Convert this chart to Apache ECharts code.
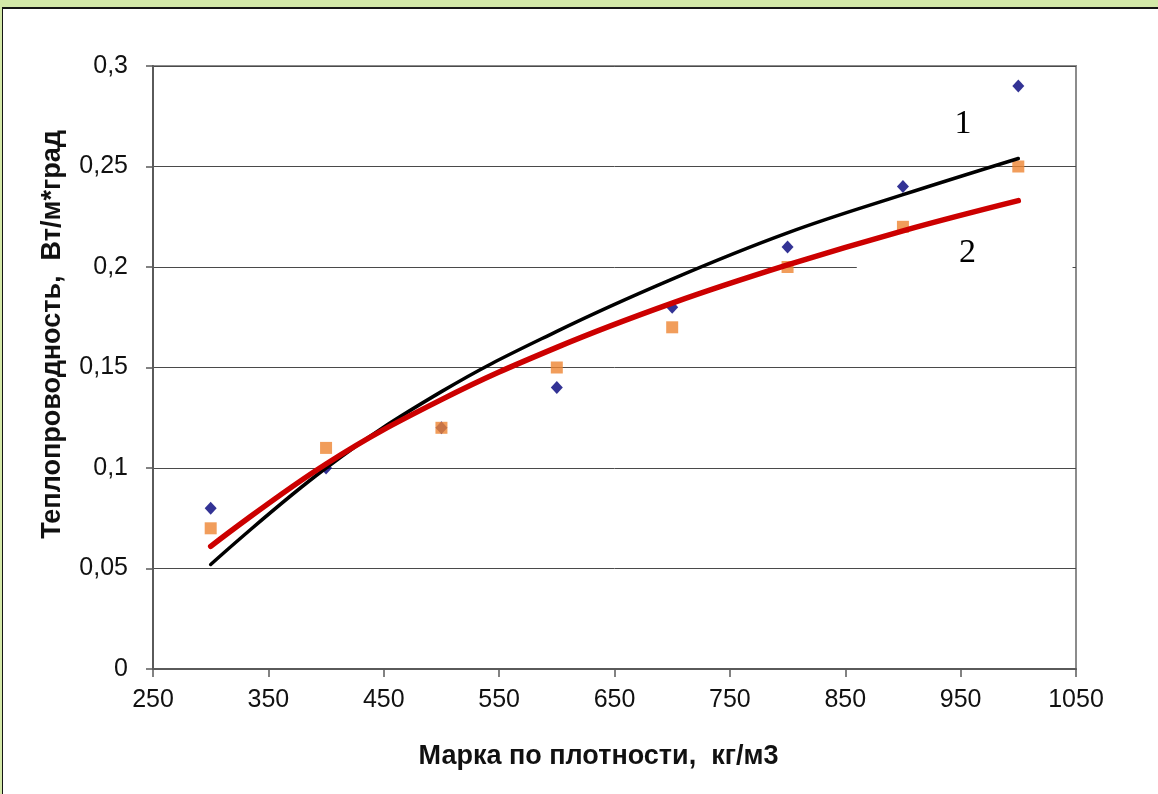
<!DOCTYPE html>
<html>
<head>
<meta charset="utf-8">
<script src="https://cdn.jsdelivr.net/npm/echarts@6/dist/echarts.min.js"></script>
<style>
  html, body { margin: 0; padding: 0; background: #ffffff; }
  #page { position: relative; width: 1158px; height: 794px; overflow: hidden; background: #ffffff; }
  #band { position: absolute; left: 0; top: 0; width: 1158px; height: 7px; background: #d3e8a8; }
  #strip { position: absolute; left: 0; top: 0; width: 2px; height: 794px; background: #d3e8a8; }
  #frame { position: absolute; left: 2px; top: 7px; width: 1200px; height: 900px;
           border-top: 2px solid #151515; border-left: 1px solid #151515; }
  #chart { position: absolute; left: 0; top: 0; width: 1158px; height: 794px; }
</style>
</head>
<body>
<div id="page">
  <div id="chart"></div>
  <div id="band"></div>
  <div id="strip"></div>
  <div id="frame"></div>
</div>
<script>
// Density grades, kg/m3
const density = [300, 400, 500, 600, 700, 800, 900, 1000];
// Measured thermal conductivity, series 1 (diamonds) and series 2 (squares)
const conductivity1 = [0.08, 0.10, 0.12, 0.14, 0.18, 0.21, 0.24, 0.29];
const conductivity2 = [0.07, 0.11, 0.12, 0.15, 0.17, 0.20, 0.22, 0.25];
// Logarithmic trend curves at the same density grades
const trend1 = [0.052, 0.100, 0.138, 0.168, 0.194, 0.217, 0.236, 0.254];
const trend2 = [0.061, 0.102, 0.134, 0.160, 0.182, 0.201, 0.218, 0.233];
// Tick labels
const yTickLabels = ['0', '0,05', '0,1', '0,15', '0,2', '0,25', '0,3'];
const xTickLabels = ['250', '350', '450', '550', '650', '750', '850', '950', '1050'];
// Curve numbers and where they sit (data coordinates)
const curveLabels = ['1', '2'];
const curveLabelPos = [[952, 0.271], [956, 0.207]];

const pairs = (xs, ys) => xs.map((x, i) => [x, ys[i]]);

const chart = echarts.init(document.getElementById('chart'), null, { renderer: 'canvas' });

const sansFont = '"Liberation Sans", Arial, sans-serif';

const option = {
  animation: false,
  backgroundColor: 'transparent',
  grid: {
    left: 153, top: 66, right: 82, bottom: 125,
    show: true, borderColor: '#8c8c8c', borderWidth: 2, backgroundColor: '#ffffff'
  },
  xAxis: {
    type: 'value', min: 250, max: 1050, interval: 100,
    name: 'Марка по плотности,  кг/м3',
    nameLocation: 'middle', nameGap: 74,
    nameTextStyle: { fontFamily: sansFont, fontWeight: 'bold', fontSize: 27, color: '#111', padding: [0, 32, 0, 0] },
    axisLine: { show: true, lineStyle: { color: '#5a5a5a', width: 2 } },
    axisTick: { show: true, inside: false, length: 8, lineStyle: { color: '#5a5a5a', width: 1.5 } },
    axisLabel: {
      margin: 19, fontFamily: sansFont, fontSize: 25, color: '#111',
      formatter: v => xTickLabels[Math.round((v - 250) / 100)]
    },
    splitLine: { show: false }
  },
  yAxis: {
    type: 'value', min: 0, max: 0.3, interval: 0.05,
    name: 'Теплопроводность,  Вт/м*град',
    nameLocation: 'middle', nameGap: 87, nameRotate: 90,
    nameTextStyle: { fontFamily: sansFont, fontWeight: 'bold', fontSize: 27, color: '#111', padding: [0, 0, 0, 66] },
    axisLine: { show: true, lineStyle: { color: '#5a5a5a', width: 2 } },
    axisTick: { show: true, inside: false, length: 7, lineStyle: { color: '#5a5a5a', width: 1.5 } },
    axisLabel: {
      margin: 25, fontFamily: sansFont, fontSize: 25, color: '#111',
      formatter: v => yTickLabels[Math.round(v / 0.05)]
    },
    splitLine: { show: true, lineStyle: { color: '#4a4a4a', width: 1 } }
  },
  series: [
    {
      name: '1', type: 'scatter', z: 2,
      symbol: 'diamond', symbolSize: [12, 13],
      itemStyle: { color: '#00007a' },
      data: pairs(density, conductivity1)
    },
    {
      name: '2', type: 'scatter', z: 2,
      symbol: 'rect', symbolSize: 12,
      itemStyle: { color: '#ee8432' },
      data: pairs(density, conductivity2)
    },
    {
      name: 'trend 1', type: 'line', z: 4,
      smooth: 0.4, showSymbol: false, symbol: 'none',
      lineStyle: { color: '#000000', width: 3.5, cap: 'round' },
      data: pairs(density, trend1)
    },
    {
      name: 'trend 2', type: 'line', z: 5,
      smooth: 0.4, showSymbol: false, symbol: 'none',
      lineStyle: { color: '#cc0000', width: 5.5, cap: 'round' },
      data: pairs(density, trend2)
    }
  ]
};

chart.setOption(option);

// Curve numbers; the second one sits on a white box that hides the grid line behind it
const p1 = chart.convertToPixel({ gridIndex: 0 }, curveLabelPos[0]);
const p2 = chart.convertToPixel({ gridIndex: 0 }, curveLabelPos[1]);
const boxLeft = chart.convertToPixel({ gridIndex: 0 }, [860, 0.2])[0];
const boxRight = chart.convertToPixel({ gridIndex: 0 }, [1047, 0.2])[0];
const serif = '34px "Liberation Serif", "Times New Roman", serif';

chart.setOption({
  graphic: [
    {
      type: 'rect', z: 1, silent: true,
      shape: { x: boxLeft, y: p2[1] - 16, width: boxRight - boxLeft, height: 36 },
      style: { fill: '#ffffff' }
    },
    {
      type: 'text', z: 10, x: p1[0], y: p1[1], silent: true,
      style: { text: curveLabels[0], font: serif, fill: '#000', align: 'center', verticalAlign: 'middle' }
    },
    {
      type: 'text', z: 10, x: p2[0], y: p2[1], silent: true,
      style: { text: curveLabels[1], font: serif, fill: '#000', align: 'center', verticalAlign: 'middle' }
    }
  ]
});
</script>
</body>
</html>
